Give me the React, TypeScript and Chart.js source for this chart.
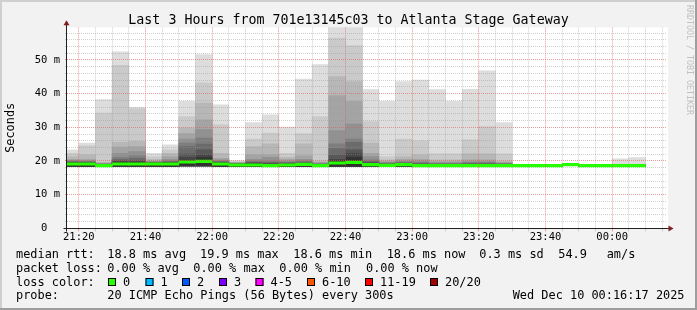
import { useEffect, useRef } from 'react';
import { Chart, registerables } from 'chart.js';

Chart.register(...registerables);

const FONT = '"DejaVu Sans Mono", monospace';

// 5-minute steps, start time in minutes after 21:00 (21:15 ... 00:05)
const slotStart = [15, 20, 25, 30, 35, 40, 45, 50, 55, 60, 65, 70, 75, 80, 85, 90, 95, 100, 105, 110, 115, 120, 125, 130, 135, 140, 145, 150, 155, 160, 165, 170, 175, 180, 185];

// median rtt per step (ms)
const medianRtt = [19.1, 19.1, 18.6, 19.1, 19.1, 19.1, 19.1, 19.7, 19.9, 19.1, 18.8, 18.8, 18.6, 18.8, 19.0, 18.6, 19.4, 19.6, 18.9, 18.7, 18.9, 18.6, 18.6, 18.6, 18.6, 18.6, 18.6, 18.6, 18.6, 18.6, 18.9, 18.6, 18.6, 18.6, 18.6];

// lowest ping per step (ms)
const pingMin = [18.4, 18.4, 18.3, 18.4, 18.4, 18.4, 18.4, 18.5, 18.5, 18.4, 18.4, 18.4, 18.3, 18.4, 18.4, 18.3, 18.4, 18.4, 18.4, 18.3, 18.4, 18.3, 18.3, 18.3, 18.3, 18.3, 18.3, 18.3, 18.3, 18.3, 18.6, 18.3, 18.3, 18.3, 18.3];

// upper sorted pings (20th = max ... 11th) per step (ms)
const ping20 = [23.3, 25.3, 38.2, 52.4, 35.9, 22.3, 24.8, 37.7, 51.6, 36.7, 20.1, 31.4, 33.7, 30.1, 44.3, 48.6, 62.0, 62.0, 41.2, 37.7, 43.6, 44.0, 41.2, 37.7, 41.3, 46.8, 31.4, 18.9, 18.9, 18.9, 19.2, 18.9, 18.9, 20.6, 21.0];
const ping19 = [22.3, 24.5, 34.2, 48.4, 35.5, 21.3, 23.3, 33.2, 43.2, 30.7, 19.8, 26.5, 28.3, 22.3, 28.1, 33.2, 56.5, 54.3, 31.7, 21.3, 26.5, 26.0, 22.1, 22.1, 26.3, 30.2, 22.1, 18.9, 18.9, 18.9, 19.2, 18.9, 18.9, 19.0, 19.0];
const ping18 = [21.3, 21.8, 19.6, 25.5, 25.8, 20.5, 22.3, 29.8, 37.2, 22.3, 19.6, 24.3, 25.1, 21.1, 25.1, 20.0, 45.1, 43.6, 25.3, 20.3, 21.3, 21.8, 20.3, 20.3, 22.1, 22.1, 20.0, 18.9, 18.9, 18.9, 19.1, 18.9, 18.9, 18.9, 18.9];
const ping17 = [20.5, 20.5, 19.4, 24.1, 24.3, 20.0, 21.3, 28.1, 32.2, 20.8, 19.5, 21.8, 21.8, 20.5, 21.5, 19.6, 39.4, 37.7, 22.3, 19.9, 20.5, 20.5, 19.8, 19.8, 20.3, 20.3, 19.6, 18.8, 18.8, 18.8, 19.1, 18.8, 18.8, 18.9, 18.9];
const ping16 = [20.2, 20.1, 19.2, 22.3, 22.8, 19.8, 20.5, 26.5, 29.3, 20.3, 19.4, 20.5, 21.1, 20.0, 20.5, 19.4, 29.0, 31.0, 21.3, 19.6, 20.0, 20.0, 19.5, 19.5, 19.8, 19.8, 19.4, 18.8, 18.8, 18.8, 19.0, 18.8, 18.8, 18.9, 18.9];
const ping15 = [20.0, 19.9, 19.1, 21.1, 21.5, 19.7, 20.0, 25.3, 26.8, 20.0, 19.3, 20.0, 20.0, 19.7, 20.0, 19.2, 25.1, 26.5, 20.3, 19.4, 19.7, 19.6, 19.3, 19.3, 19.5, 19.5, 19.2, 18.8, 18.8, 18.8, 19.0, 18.8, 18.8, 18.8, 18.8];
const ping14 = [19.8, 19.7, 19.0, 20.5, 20.8, 19.6, 19.8, 24.3, 25.0, 19.8, 19.2, 19.7, 19.6, 19.5, 19.7, 19.0, 23.7, 25.5, 19.9, 19.2, 19.5, 19.3, 19.1, 19.1, 19.3, 19.3, 19.1, 18.7, 18.7, 18.7, 19.0, 18.7, 18.7, 18.8, 18.8];
const ping13 = [19.6, 19.6, 18.9, 20.1, 20.1, 19.5, 19.6, 22.1, 23.3, 19.6, 19.1, 19.5, 19.3, 19.3, 19.5, 18.9, 21.8, 23.3, 19.6, 19.1, 19.3, 19.1, 19.0, 19.0, 19.1, 19.1, 19.0, 18.7, 18.7, 18.7, 18.9, 18.7, 18.7, 18.7, 18.7];
const ping12 = [19.5, 19.5, 18.8, 19.8, 19.8, 19.4, 19.5, 21.1, 21.8, 19.5, 19.0, 19.3, 19.1, 19.1, 19.3, 18.8, 20.5, 22.3, 19.4, 19.0, 19.2, 18.9, 18.9, 18.9, 18.9, 18.9, 18.9, 18.7, 18.7, 18.7, 18.9, 18.7, 18.7, 18.7, 18.7];
const ping11 = [19.3, 19.3, 18.7, 19.5, 19.5, 19.3, 19.3, 20.1, 21.0, 19.3, 18.9, 19.1, 18.9, 19.0, 19.2, 18.7, 20.0, 21.1, 19.2, 18.9, 19.1, 18.8, 18.8, 18.8, 18.8, 18.8, 18.8, 18.7, 18.7, 18.7, 18.9, 18.7, 18.7, 18.7, 18.7];

const smokeColors = ['#dddddd', '#cacaca', '#b7b7b7', '#a4a4a4', '#919191', '#7e7e7e', '#6b6b6b', '#585858', '#454545', '#323232'];

const xTickMinutes = [20, 40, 60, 80, 100, 120, 140, 160, 180];
const xTickLabels = ['21:20', '21:40', '22:00', '22:20', '22:40', '23:00', '23:20', '23:40', '00:00'];
const yTickValues = [0, 10, 20, 30, 40, 50];
const yTickLabels = ['0  ', '10 m', '20 m', '30 m', '40 m', '50 m'];

const titleText = 'Last 3 Hours from 701e13145c03 to Atlanta Stage Gateway';
const rttLabels = ['median rtt:', '18.8 ms avg', '19.9 ms max', '18.6 ms min', '18.6 ms now', '0.3 ms sd', '54.9', 'am/s'];
const lossLabels = ['packet loss:', '0.00 % avg', '0.00 % max', '0.00 % min', '0.00 % now'];
const lossColorNames = ['0', '1', '2', '3', '4-5', '6-10', '11-19', '20/20'];
const lossColors = ['#26ff00', '#00b8ff', '#0059ff', '#7e00ff', '#ff00ff', '#ff5500', '#ff0000', '#a10000'];
const probeText = ['probe:', '20 ICMP Echo Pings (56 Bytes) every 300s', 'Wed Dec 10 00:16:17 2025'];

const X_MIN = 16.45;
const X_MAX = 196.45;
const Y_MAX = 59.7;
const GRID = 'rgba(150,150,150,0.45)';
const MGRID = 'rgba(225,90,90,0.6)';

const decor = {
  id: 'decor',
  beforeDraw(chart: any) {
    const { ctx, chartArea: a } = chart;
    ctx.save();
    ctx.fillStyle = '#f2f2f2';
    ctx.fillRect(0, 0, chart.width, chart.height);
    ctx.fillStyle = '#ffffff';
    ctx.fillRect(a.left, a.top, a.right - a.left + 1, a.bottom - a.top);
    ctx.restore();
  },
  afterDraw(chart: any) {
    const { ctx, chartArea: a } = chart;
    const W = chart.width;
    const H = chart.height;
    ctx.save();
    // 3d frame
    ctx.fillStyle = '#cfcfcf';
    ctx.fillRect(0, 0, W, 2);
    ctx.fillRect(0, 0, 2, H);
    ctx.fillStyle = '#9e9e9e';
    ctx.fillRect(0, H - 2, W, 2);
    ctx.fillRect(W - 2, 0, 2, H);

    // axes
    const ay = Math.round(a.bottom) + 0.5;
    const ax = Math.round(a.left) - 0.5;
    ctx.strokeStyle = '#1f1f1f';
    ctx.lineWidth = 1;
    ctx.beginPath();
    ctx.moveTo(ax - 3, ay);
    ctx.lineTo(a.right + 2, ay);
    ctx.moveTo(ax, ay + 3);
    ctx.lineTo(ax, a.top - 3);
    ctx.stroke();
    ctx.fillStyle = '#801f1f';
    ctx.beginPath();
    ctx.moveTo(a.right + 1.5, ay - 3);
    ctx.lineTo(a.right + 6.5, ay);
    ctx.lineTo(a.right + 1.5, ay + 3);
    ctx.closePath();
    ctx.fill();
    ctx.beginPath();
    ctx.moveTo(ax - 3, a.top - 2);
    ctx.lineTo(ax, a.top - 7);
    ctx.lineTo(ax + 3, a.top - 2);
    ctx.closePath();
    ctx.fill();

    // title
    ctx.fillStyle = '#000';
    ctx.textBaseline = 'alphabetic';
    ctx.textAlign = 'center';
    ctx.font = `13.3px ${FONT}`;
    ctx.fillText(titleText, W / 2, 24);

    // y unit label
    ctx.save();
    ctx.translate(14, (a.top + a.bottom) / 2);
    ctx.rotate(-Math.PI / 2);
    ctx.font = `11.9px ${FONT}`;
    ctx.textAlign = 'center';
    ctx.fillText('Seconds', 0, 0);
    ctx.restore();

    // watermark
    ctx.save();
    ctx.translate(686.5, 60);
    ctx.rotate(Math.PI / 2);
    ctx.font = `8.3px ${FONT}`;
    ctx.fillStyle = '#c0c0c0';
    ctx.textAlign = 'center';
    ctx.fillText('RRDTOOL / TOBI OETIKER', 0, 0);
    ctx.restore();

    // legend
    ctx.font = `11.9px ${FONT}`;
    ctx.textAlign = 'left';
    ctx.fillStyle = '#000';
    const rttX = [16, 107.3, 200, 293.3, 386.7, 479.3, 558.3, 606.7];
    rttLabels.forEach((t, i) => ctx.fillText(t, rttX[i], 257.8));
    const lossX = [16, 107.3, 193.3, 279.3, 366];
    lossLabels.forEach((t, i) => ctx.fillText(t, lossX[i], 271.7));
    ctx.fillText('loss color:', 16, 285.6);
    const boxX = [108, 145.5, 182, 219, 255.5, 307, 365, 430];
    lossColorNames.forEach((t, i) => {
      ctx.fillStyle = lossColors[i];
      ctx.fillRect(boxX[i], 278, 8, 8);
      ctx.strokeStyle = '#000';
      ctx.lineWidth = 1;
      ctx.strokeRect(boxX[i] + 0.5, 278.5, 7, 7);
      ctx.fillStyle = '#000';
      ctx.fillText(t, boxX[i] + 15, 285.6);
    });
    const probeX = [16, 107.3, 512.7];
    probeText.forEach((t, i) => ctx.fillText(t, probeX[i], 299.4));
    ctx.restore();
  },
};

export default function App() {
  const ref = useRef<HTMLCanvasElement>(null);
  useEffect(() => {
    const bands = [ping20, ping19, ping18, ping17, ping16, ping15, ping14, ping13, ping12, ping11];
    const smokeSets = bands.map((tops, i) => ({
      type: 'bar' as const,
      data: slotStart.map((s, k) => ({ x: s + 2.5, y: [pingMin[k], tops[k]] })),
      backgroundColor: smokeColors[i],
      borderWidth: 0,
      grouped: false,
      barPercentage: 1,
      categoryPercentage: 1,
      order: 10 - i,
    }));
    const medianSet = {
      type: 'bar' as const,
      data: slotStart.map((s, k) => ({ x: s + 2.5, y: [medianRtt[k] - 0.37, medianRtt[k] + 0.37] })),
      backgroundColor: lossColors[0],
      borderWidth: 0,
      grouped: false,
      barPercentage: 1,
      categoryPercentage: 1,
      order: 0,
    };
    const xMinor: number[] = [];
    for (let m = 20; m <= 195; m += 5) xMinor.push(m);
    const yMinor: number[] = [];
    for (let v = 0; v <= 58; v += 2) yMinor.push(v);

    const chart = new Chart(ref.current as HTMLCanvasElement, {
      type: 'bar',
      data: { datasets: [medianSet, ...smokeSets] as any },
      options: {
        responsive: false,
        animation: false,
        devicePixelRatio: 1,
        events: [],
        layout: { padding: { left: 0, right: 30, top: 27.3, bottom: 61.7 } },
        plugins: { legend: { display: false }, tooltip: { enabled: false }, title: { display: false } },
        scales: {
          x: {
            type: 'linear',
            min: X_MIN,
            max: X_MAX,
            offset: false,
            afterFit: (s: any) => { s.height = 20; },
            afterBuildTicks: (s: any) => { s.ticks = xMinor.map((v) => ({ value: v })); },
            grid: {
              offset: false,
              z: 1,
              drawTicks: true,
              tickLength: 3,
              color: (c: any) => (c.tick && c.tick.value % 20 === 0 ? MGRID : GRID),
            },
            border: { display: false, dash: [1, 1] },
            ticks: {
              autoSkip: false,
              maxRotation: 0,
              minRotation: 0,
              padding: 0,
              color: '#000',
              font: { family: FONT, size: 10.5 },
              callback: (v: any) => {
                const i = xTickMinutes.indexOf(Number(v));
                return i >= 0 ? xTickLabels[i] : '';
              },
            },
          },
          y: {
            type: 'linear',
            min: 0,
            max: Y_MAX,
            afterFit: (s: any) => { s.width = 67; },
            afterBuildTicks: (s: any) => { s.ticks = yMinor.map((v) => ({ value: v })); },
            grid: {
              z: 1,
              drawTicks: true,
              tickLength: 2,
              color: (c: any) => (c.tick && c.tick.value % 10 === 0 ? MGRID : GRID),
            },
            border: { display: false, dash: [1, 1] },
            ticks: {
              autoSkip: false,
              padding: 5,
              color: '#000',
              font: { family: FONT, size: 10.5 },
              callback: (v: any) => {
                const i = yTickValues.indexOf(Number(v));
                return i >= 0 ? yTickLabels[i] : '';
              },
            },
          },
        },
      } as any,
      plugins: [decor],
    });
    return () => chart.destroy();
  }, []);
  return (
    <div style={{ position: 'fixed', left: 0, top: 0, width: 697, height: 310 }}>
      <canvas ref={ref} width={697} height={310} style={{ display: 'block', width: 697, height: 310 }} />
    </div>
  );
}
